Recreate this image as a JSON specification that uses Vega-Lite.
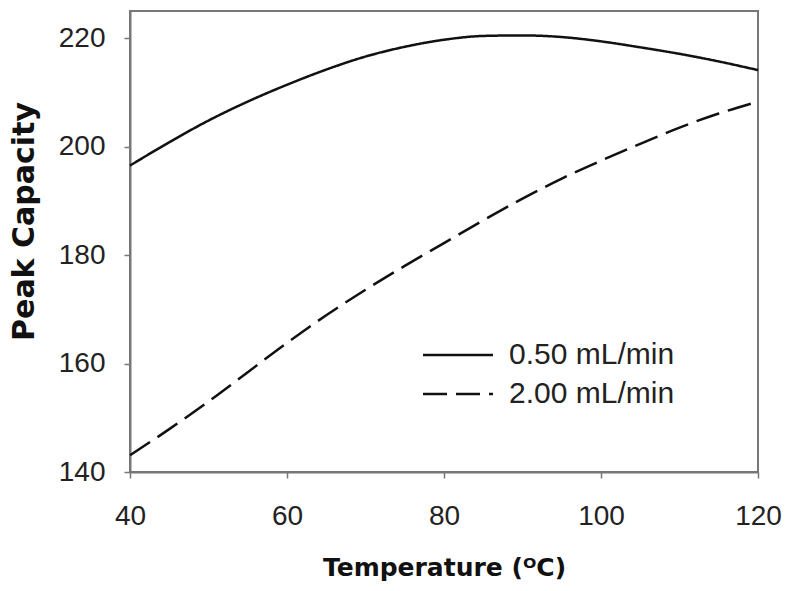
{
  "$schema": "https://vega.github.io/schema/vega-lite/v6.json",
  "autosize": "none",
  "padding": {"left": 130, "top": 11, "right": 35, "bottom": 119},
  "width": 628,
  "height": 461,
  "background": "white",
  "config": {
    "view": {"stroke": "#777777", "strokeWidth": 2},
    "font": "Liberation Sans",
    "axis": {
      "grid": false,
      "domainColor": "#777777",
      "domainWidth": 2,
      "tickColor": "#777777",
      "tickWidth": 1.5,
      "tickSize": 6,
      "labelFont": "Liberation Sans",
      "labelFontSize": 28,
      "labelColor": "#222222",
      "titleFont": "DejaVu Sans",
      "titleFontWeight": "bold",
      "titleColor": "#111111"
    },
    "legend": {
      "orient": "none",
      "legendX": 313,
      "legendY": 329,
      "labelFont": "Liberation Sans",
      "labelFontSize": 30,
      "labelColor": "#222222",
      "labelLimit": 400,
      "symbolType": "M-3,0H3",
      "symbolSize": 544,
      "symbolStrokeWidth": 2.5,
      "symbolStrokeColor": "#111111",
      "symbolFillColor": "transparent",
      "title": null,
      "labelOffset": 36,
      "rowPadding": 9
    }
  },
  "data": {
    "values": [
      {"temp": 40, "capacity": 196.5, "flow": "0.50 mL/min"},
      {"temp": 45, "capacity": 200.8, "flow": "0.50 mL/min"},
      {"temp": 50, "capacity": 204.8, "flow": "0.50 mL/min"},
      {"temp": 55, "capacity": 208.3, "flow": "0.50 mL/min"},
      {"temp": 60, "capacity": 211.4, "flow": "0.50 mL/min"},
      {"temp": 65, "capacity": 214.2, "flow": "0.50 mL/min"},
      {"temp": 70, "capacity": 216.6, "flow": "0.50 mL/min"},
      {"temp": 75, "capacity": 218.4, "flow": "0.50 mL/min"},
      {"temp": 80, "capacity": 219.7, "flow": "0.50 mL/min"},
      {"temp": 85, "capacity": 220.4, "flow": "0.50 mL/min"},
      {"temp": 90, "capacity": 220.5, "flow": "0.50 mL/min"},
      {"temp": 95, "capacity": 220.2, "flow": "0.50 mL/min"},
      {"temp": 100, "capacity": 219.4, "flow": "0.50 mL/min"},
      {"temp": 105, "capacity": 218.3, "flow": "0.50 mL/min"},
      {"temp": 110, "capacity": 217.1, "flow": "0.50 mL/min"},
      {"temp": 115, "capacity": 215.7, "flow": "0.50 mL/min"},
      {"temp": 120, "capacity": 214.1, "flow": "0.50 mL/min"},
      {"temp": 40, "capacity": 143.1, "flow": "2.00 mL/min"},
      {"temp": 45, "capacity": 147.9, "flow": "2.00 mL/min"},
      {"temp": 50, "capacity": 153.0, "flow": "2.00 mL/min"},
      {"temp": 55, "capacity": 158.4, "flow": "2.00 mL/min"},
      {"temp": 60, "capacity": 163.8, "flow": "2.00 mL/min"},
      {"temp": 65, "capacity": 168.9, "flow": "2.00 mL/min"},
      {"temp": 70, "capacity": 173.6, "flow": "2.00 mL/min"},
      {"temp": 75, "capacity": 178.0, "flow": "2.00 mL/min"},
      {"temp": 80, "capacity": 182.2, "flow": "2.00 mL/min"},
      {"temp": 85, "capacity": 186.4, "flow": "2.00 mL/min"},
      {"temp": 90, "capacity": 190.4, "flow": "2.00 mL/min"},
      {"temp": 95, "capacity": 194.1, "flow": "2.00 mL/min"},
      {"temp": 100, "capacity": 197.4, "flow": "2.00 mL/min"},
      {"temp": 105, "capacity": 200.5, "flow": "2.00 mL/min"},
      {"temp": 110, "capacity": 203.5, "flow": "2.00 mL/min"},
      {"temp": 115, "capacity": 206.1, "flow": "2.00 mL/min"},
      {"temp": 120, "capacity": 208.3, "flow": "2.00 mL/min"}
    ]
  },
  "mark": {"type": "line", "color": "#111111", "strokeWidth": 2.5, "interpolate": "monotone"},
  "encoding": {
    "x": {
      "field": "temp",
      "type": "quantitative",
      "scale": {"domain": [40, 120], "nice": false, "zero": false},
      "axis": {
        "values": [40, 60, 80, 100, 120],
        "title": "Temperature (ᴼC)",
        "titleFontSize": 25,
        "titleBaseline": "alphabetic",
        "titleY": 103,
        "labelBaseline": "alphabetic",
        "labelPadding": 46,
        "labelFlush": false
      }
    },
    "y": {
      "field": "capacity",
      "type": "quantitative",
      "scale": {"domain": [140, 225], "nice": false, "zero": false},
      "axis": {
        "values": [140, 160, 180, 200, 220],
        "title": "Peak Capacity",
        "titleFontSize": 30,
        "titleBaseline": "alphabetic",
        "titleAngle": -90,
        "titleX": -97,
        "titleY": 210,
        "labelPadding": 19,
        "labelFlush": false
      }
    },
    "strokeDash": {
      "field": "flow",
      "type": "nominal",
      "scale": {"domain": ["0.50 mL/min", "2.00 mL/min"], "range": [[1, 0], [24, 9]]},
      "legend": {}
    }
  }
}
